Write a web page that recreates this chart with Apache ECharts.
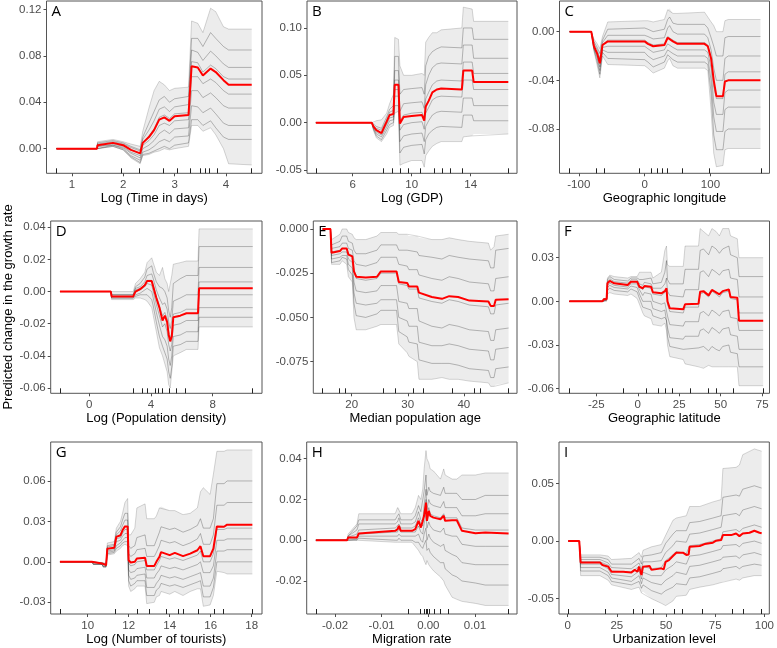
<!DOCTYPE html>
<html><head><meta charset="utf-8">
<script src="https://cdn.jsdelivr.net/npm/echarts@6/dist/echarts.min.js"></script>
<style>html,body{margin:0;padding:0;background:#fff}#c{width:777px;height:648px}</style>
</head><body><div id="c"></div>
<script>
// ---------- Panel A : Log (Time in days) ----------
const A_x   = [0.7,1.49,1.5,1.8,2.0,2.15,2.33,2.38,2.5,2.6,2.7,2.8,2.9,3.0,3.27,3.33,3.45,3.55,3.7,3.8,3.95,4.05,4.5];
const A_red = [0,0,0.003,0.005,0.003,-0.001,-0.004,0.005,0.01,0.016,0.025,0.027,0.024,0.028,0.029,0.071,0.070,0.063,0.069,0.066,0.059,0.055,0.055];
const A_hi  = [0,0,0.006,0.008,0.006,0.004,0.002,0.015,0.035,0.05,0.058,0.055,0.05,0.052,0.053,0.11,0.108,0.1,0.121,0.118,0.105,0.103,0.103];
const A_lo  = [0,0,0.001,0.002,-0.001,-0.008,-0.013,-0.006,-0.005,-0.003,-0.002,0.0,-0.001,0.0,0.002,0.02,0.02,0.015,0.018,0.012,0.0,-0.013,-0.014];
const A_ice = [
 [0,0,0.005,0.007,0.005,0.002,-0.001,0.01,0.022,0.032,0.042,0.045,0.04,0.043,0.045,0.095,0.095,0.088,0.1,0.095,0.088,0.085,0.085],
 [0,0,0.004,0.006,0.004,0.001,-0.002,0.008,0.016,0.024,0.034,0.036,0.032,0.036,0.038,0.085,0.083,0.076,0.084,0.08,0.073,0.07,0.07],
 [0,0,0.003,0.005,0.003,-0.001,-0.004,0.005,0.011,0.017,0.027,0.029,0.026,0.03,0.031,0.075,0.074,0.066,0.072,0.069,0.062,0.06,0.06],
 [0,0,0.002,0.004,0.002,-0.003,-0.006,0.003,0.007,0.012,0.02,0.022,0.02,0.024,0.025,0.062,0.062,0.056,0.06,0.057,0.05,0.047,0.047],
 [0,0,0.002,0.003,0.001,-0.004,-0.008,0.0,0.003,0.007,0.013,0.016,0.013,0.017,0.018,0.05,0.05,0.044,0.048,0.044,0.037,0.035,0.035],
 [0,0,0.001,0.003,0.0,-0.006,-0.01,-0.003,-0.001,0.002,0.006,0.008,0.006,0.01,0.011,0.037,0.036,0.031,0.035,0.03,0.022,0.02,0.02],
 [0,0,0.001,0.002,-0.001,-0.007,-0.012,-0.005,-0.004,-0.002,0.0,0.002,0.0,0.003,0.005,0.025,0.025,0.02,0.024,0.018,0.01,0.008,0.008]
];
const A_rug = [0.7,1.96,2.31,2.77,3.06,3.30,3.50,3.59,3.67,3.82,4.5];
const A_xt = [1,2,3,4];
const A_yt = [0,0.04,0.08,0.12];

// ---------- Panel B : Log (GDP) ----------
const B_x   = [3.5,7.29,7.4,7.6,7.95,8.3,8.5,8.76,8.85,9.1,9.2,9.45,10.0,10.7,10.85,10.95,11.15,11.4,11.7,12.0,13.4,13.5,14.1,14.2,16.55];
const B_red = [0,0,-0.004,-0.008,-0.011,0.001,0.008,0.009,0.040,0.040,-0.001,0.006,0.007,0.008,0.002,0.017,0.023,0.032,0.035,0.036,0.035,0.055,0.055,0.043,0.043];
const B_hi  = [0,0,0.0,0.002,0.003,0.01,0.02,0.03,0.09,0.088,0.06,0.05,0.05,0.052,0.05,0.085,0.09,0.095,0.095,0.098,0.1,0.122,0.12,0.107,0.107];
const B_lo  = [0,0,-0.008,-0.016,-0.02,-0.012,-0.005,-0.003,0.01,0.012,-0.045,-0.043,-0.04,-0.04,-0.047,-0.035,-0.03,-0.025,-0.022,-0.02,-0.02,-0.015,-0.014,-0.012,-0.012];
const B_ice = [
 [0,0,-0.002,-0.004,-0.006,0.006,0.014,0.018,0.07,0.07,0.03,0.035,0.036,0.037,0.03,0.06,0.07,0.075,0.078,0.08,0.079,0.1,0.1,0.088,0.088],
 [0,0,-0.003,-0.006,-0.008,0.003,0.011,0.013,0.055,0.055,0.012,0.02,0.021,0.022,0.015,0.04,0.05,0.058,0.062,0.063,0.062,0.082,0.082,0.068,0.068],
 [0,0,-0.004,-0.008,-0.011,0.0,0.008,0.01,0.045,0.045,0.002,0.008,0.01,0.011,0.004,0.025,0.032,0.04,0.044,0.045,0.044,0.064,0.064,0.052,0.052],
 [0,0,-0.005,-0.01,-0.013,-0.002,0.005,0.006,0.035,0.035,-0.008,-0.002,0.0,0.001,-0.007,0.01,0.016,0.024,0.027,0.028,0.027,0.045,0.045,0.035,0.035],
 [0,0,-0.006,-0.012,-0.015,-0.005,0.002,0.003,0.028,0.028,-0.02,-0.014,-0.012,-0.011,-0.02,-0.004,0.002,0.008,0.011,0.012,0.011,0.026,0.026,0.018,0.018],
 [0,0,-0.007,-0.014,-0.018,-0.008,-0.002,0.0,0.018,0.018,-0.032,-0.026,-0.024,-0.023,-0.033,-0.018,-0.012,-0.008,-0.005,-0.004,-0.005,0.008,0.008,0.002,0.002]
];
const B_rug = [3.5,8.1,8.7,9.25,9.75,10.6,11.5,12.05,12.6,13.4,16.55];
const B_xt = [6,10,14];
const B_yt = [-0.05,0,0.05,0.10];

// ---------- Panel C : Geographic longitude ----------
const C_x   = [-114,-81,-77,-72,-68,-64,-56,0,5,13,30,35,38,43,50,91,96,101,105,109,119,122,127,176];
const C_red = [0,0,-0.012,-0.018,-0.026,-0.011,-0.008,-0.008,-0.01,-0.012,-0.011,-0.005,-0.004,-0.008,-0.010,-0.010,-0.012,-0.022,-0.04,-0.053,-0.053,-0.041,-0.040,-0.040];
const C_hi  = [0,0,-0.006,-0.01,-0.014,-0.004,0.008,0.009,0.009,0.008,0.01,0.018,0.019,0.015,0.015,0.016,0.012,0.008,0.005,0.0,0.0,0.009,0.01,0.01];
const C_lo  = [0,0,-0.016,-0.028,-0.038,-0.02,-0.027,-0.028,-0.03,-0.034,-0.03,-0.024,-0.022,-0.028,-0.03,-0.03,-0.032,-0.065,-0.1,-0.111,-0.11,-0.097,-0.096,-0.096];
const C_ice = [
 [0,0,-0.008,-0.013,-0.018,-0.007,0.002,0.003,0.002,0.0,0.002,0.01,0.012,0.007,0.006,0.006,0.003,-0.005,-0.012,-0.02,-0.02,-0.005,-0.004,-0.004],
 [0,0,-0.01,-0.015,-0.022,-0.009,-0.003,-0.003,-0.004,-0.006,-0.005,0.003,0.005,0.0,-0.002,-0.002,-0.005,-0.015,-0.03,-0.04,-0.04,-0.022,-0.02,-0.02],
 [0,0,-0.012,-0.018,-0.026,-0.011,-0.007,-0.007,-0.009,-0.011,-0.01,-0.004,-0.003,-0.007,-0.009,-0.009,-0.011,-0.022,-0.045,-0.055,-0.055,-0.035,-0.033,-0.033],
 [0,0,-0.013,-0.02,-0.029,-0.013,-0.012,-0.012,-0.014,-0.017,-0.015,-0.01,-0.009,-0.013,-0.015,-0.015,-0.017,-0.03,-0.058,-0.068,-0.068,-0.05,-0.048,-0.048],
 [0,0,-0.014,-0.022,-0.032,-0.015,-0.017,-0.017,-0.02,-0.023,-0.02,-0.015,-0.014,-0.018,-0.02,-0.02,-0.022,-0.04,-0.07,-0.082,-0.082,-0.064,-0.062,-0.062],
 [0,0,-0.015,-0.025,-0.035,-0.017,-0.022,-0.023,-0.025,-0.029,-0.025,-0.019,-0.018,-0.023,-0.025,-0.025,-0.027,-0.05,-0.085,-0.097,-0.097,-0.082,-0.08,-0.08]
];
const C_rug = [-114,-73,-61,-8,10,19,27,34,57,98,177];
const C_xt = [-100,0,100];
const C_yt = [-0.08,-0.04,0];

// ---------- Panel D : Log (Population density) ----------
const D_x   = [-1.9,1.4,1.45,2.85,3.0,3.3,3.6,3.75,4.05,4.15,4.35,4.55,4.75,4.9,5.05,5.15,5.25,5.35,5.45,5.9,6.3,7.05,7.12,10.6];
const D_red = [0,0,-0.003,-0.003,0.0,0.0015,0.004,0.0065,0.0065,0.003,-0.004,-0.01,-0.018,-0.015,-0.019,-0.027,-0.031,-0.028,-0.016,-0.015,-0.0135,-0.0135,0.002,0.002];
const D_hi  = [0,0,0,0,0.005,0.008,0.012,0.018,0.021,0.018,0.012,0.01,0.015,0.008,0.005,0.0,0.005,0.01,0.017,0.018,0.019,0.019,0.039,0.039];
const D_lo  = [0,0,-0.005,-0.005,-0.004,-0.004,-0.005,-0.006,-0.01,-0.015,-0.025,-0.035,-0.04,-0.045,-0.05,-0.058,-0.06,-0.05,-0.04,-0.038,-0.036,-0.036,-0.022,-0.022];
const D_ice = [
 [0,0,-0.002,-0.002,0.003,0.005,0.009,0.014,0.016,0.012,0.006,0.003,0.002,0.0,-0.004,-0.012,-0.016,-0.01,0.005,0.008,0.01,0.01,0.028,0.028],
 [0,0,-0.002,-0.002,0.002,0.003,0.006,0.01,0.011,0.008,0.001,-0.004,-0.008,-0.007,-0.011,-0.019,-0.023,-0.018,-0.006,-0.004,-0.002,-0.002,0.015,0.015],
 [0,0,-0.003,-0.003,0.001,0.002,0.004,0.007,0.007,0.004,-0.003,-0.009,-0.015,-0.013,-0.017,-0.025,-0.029,-0.026,-0.014,-0.013,-0.011,-0.011,0.006,0.006],
 [0,0,-0.003,-0.003,0.0,0.001,0.003,0.005,0.004,0.0,-0.008,-0.015,-0.022,-0.02,-0.025,-0.033,-0.037,-0.033,-0.021,-0.02,-0.018,-0.018,-0.002,-0.002],
 [0,0,-0.004,-0.004,-0.002,-0.001,0.001,0.002,0.0,-0.004,-0.013,-0.021,-0.028,-0.03,-0.034,-0.042,-0.046,-0.04,-0.028,-0.027,-0.025,-0.025,-0.01,-0.01],
 [0,0,-0.004,-0.004,-0.003,-0.002,-0.002,-0.002,-0.005,-0.009,-0.019,-0.028,-0.034,-0.038,-0.042,-0.05,-0.054,-0.047,-0.034,-0.033,-0.031,-0.031,-0.016,-0.016]
];
const D_rug = [-1.9,2.85,3.44,3.78,4.28,4.5,4.74,5.19,5.66,6.25,10.57];
const D_xt = [0,4,8];
const D_yt = [-0.06,-0.04,-0.02,0,0.02,0.04];

// ---------- Panel E : Median population age ----------
const E_x   = [14.8,16.2,16.4,17.9,18.3,19.1,19.4,20.1,20.4,20.8,22.5,24.5,25.2,28.0,28.4,29.9,30.2,31.7,32.0,34.3,36.1,37.4,39.0,41.0,44.4,44.8,45.4,45.7,48.0];
const E_red = [0,0,-0.0135,-0.0125,-0.011,-0.011,-0.0145,-0.0155,-0.024,-0.027,-0.0275,-0.027,-0.024,-0.024,-0.030,-0.0305,-0.0325,-0.0325,-0.036,-0.0385,-0.0395,-0.038,-0.0385,-0.0405,-0.041,-0.0435,-0.0435,-0.040,-0.0397];
const E_hi  = [0,0,-0.006,-0.003,0.0,0.0,-0.002,-0.003,-0.005,-0.006,-0.006,-0.004,-0.002,-0.002,-0.003,-0.003,-0.004,-0.004,-0.005,-0.006,-0.006,-0.005,-0.006,-0.007,-0.008,-0.012,-0.01,-0.004,-0.003];
const E_lo  = [0,0,-0.02,-0.02,-0.018,-0.02,-0.027,-0.03,-0.05,-0.057,-0.057,-0.055,-0.054,-0.054,-0.065,-0.07,-0.072,-0.075,-0.085,-0.085,-0.084,-0.085,-0.085,-0.086,-0.087,-0.089,-0.089,-0.088,-0.087];
const E_ice = [
 [0,0,-0.009,-0.007,-0.004,-0.004,-0.007,-0.008,-0.012,-0.014,-0.014,-0.012,-0.009,-0.009,-0.012,-0.012,-0.013,-0.013,-0.015,-0.016,-0.017,-0.015,-0.016,-0.017,-0.018,-0.022,-0.022,-0.012,-0.011],
 [0,0,-0.011,-0.01,-0.008,-0.008,-0.011,-0.012,-0.018,-0.02,-0.021,-0.019,-0.016,-0.016,-0.02,-0.021,-0.023,-0.023,-0.026,-0.028,-0.029,-0.027,-0.028,-0.03,-0.031,-0.035,-0.035,-0.028,-0.027],
 [0,0,-0.013,-0.012,-0.011,-0.011,-0.014,-0.015,-0.024,-0.028,-0.029,-0.028,-0.025,-0.025,-0.031,-0.032,-0.034,-0.034,-0.039,-0.041,-0.042,-0.04,-0.041,-0.043,-0.044,-0.048,-0.048,-0.043,-0.042],
 [0,0,-0.015,-0.014,-0.013,-0.013,-0.017,-0.019,-0.03,-0.035,-0.036,-0.035,-0.032,-0.032,-0.041,-0.042,-0.045,-0.045,-0.052,-0.055,-0.056,-0.054,-0.055,-0.057,-0.058,-0.063,-0.063,-0.057,-0.056],
 [0,0,-0.017,-0.016,-0.015,-0.015,-0.02,-0.022,-0.036,-0.042,-0.043,-0.042,-0.04,-0.04,-0.05,-0.052,-0.055,-0.055,-0.064,-0.066,-0.066,-0.065,-0.066,-0.068,-0.069,-0.074,-0.074,-0.068,-0.067],
 [0,0,-0.019,-0.018,-0.016,-0.017,-0.023,-0.026,-0.042,-0.049,-0.05,-0.048,-0.046,-0.046,-0.058,-0.061,-0.064,-0.065,-0.074,-0.076,-0.076,-0.076,-0.077,-0.079,-0.08,-0.084,-0.084,-0.079,-0.078]
];
const E_rug = [14.8,17.8,18.8,25.65,27.7,30.9,32.8,38.0,41.9,43.0,48.0];
const E_xt = [20,30,40];
const E_yt = [-0.075,-0.05,-0.025,0];

// ---------- Panel F : Geographic latitude ----------
const F_x   = [-41.3,-21.3,-20.5,-18.8,-18.3,-16.9,-14.2,-6.1,-4.1,-0.4,1,3,4,8,9.1,14.2,16.3,17.3,17.9,19.3,27.4,28.5,36.6,37.6,39.6,42.7,44.7,47.2,49.2,51.2,54.9,55.9,60,61,75.6];
const F_red = [0,0,0.0014,0.0014,0.0124,0.014,0.0124,0.0112,0.0135,0.0135,0.01,0.009,0.0105,0.01,0.0062,0.0055,0.007,0.009,0.0,-0.0048,-0.0055,-0.002,-0.0016,0.0066,0.007,0.0041,0.0078,0.0062,0.0048,0.007,0.0082,0.003,0.0025,-0.0133,-0.0133];
const F_hi  = [0,0,0.002,0.002,0.016,0.018,0.017,0.016,0.017,0.017,0.02,0.02,0.02,0.02,0.016,0.02,0.035,0.038,0.025,0.024,0.024,0.038,0.038,0.05,0.048,0.045,0.05,0.048,0.045,0.05,0.05,0.045,0.043,0.03,0.03];
const F_lo  = [0,0,0,0,0.005,0.006,0.005,0.004,0.005,0.002,-0.002,-0.008,-0.01,-0.012,-0.016,-0.017,-0.015,-0.02,-0.03,-0.038,-0.04,-0.043,-0.045,-0.045,-0.046,-0.044,-0.045,-0.045,-0.045,-0.045,-0.045,-0.045,-0.045,-0.058,-0.058];
const F_ice = [
 [0,0,0.0018,0.0018,0.015,0.017,0.015,0.014,0.016,0.016,0.015,0.015,0.016,0.016,0.012,0.013,0.02,0.028,0.015,0.012,0.012,0.022,0.022,0.035,0.036,0.032,0.038,0.036,0.033,0.036,0.038,0.032,0.03,0.017,0.017],
 [0,0,0.0016,0.0016,0.0135,0.0155,0.0135,0.0125,0.0148,0.0148,0.012,0.011,0.013,0.012,0.009,0.009,0.012,0.016,0.007,0.004,0.003,0.008,0.008,0.02,0.021,0.017,0.022,0.02,0.018,0.021,0.022,0.016,0.015,0.003,0.003],
 [0,0,0.0014,0.0014,0.0124,0.014,0.0124,0.0112,0.0135,0.0135,0.01,0.008,0.01,0.009,0.005,0.004,0.006,0.008,-0.002,-0.007,-0.008,-0.004,-0.004,0.005,0.006,0.003,0.007,0.005,0.003,0.006,0.007,0.002,0.001,-0.008,-0.008],
 [0,0,0.0012,0.0012,0.011,0.0125,0.011,0.0098,0.012,0.012,0.008,0.004,0.006,0.005,0.0,-0.002,-0.001,0.0,-0.01,-0.016,-0.017,-0.014,-0.014,-0.008,-0.007,-0.01,-0.006,-0.008,-0.01,-0.007,-0.006,-0.011,-0.012,-0.02,-0.02],
 [0,0,0.001,0.001,0.0095,0.011,0.0095,0.0085,0.0105,0.0095,0.005,0.0,0.001,0.0,-0.005,-0.007,-0.006,-0.007,-0.018,-0.025,-0.026,-0.024,-0.024,-0.02,-0.019,-0.022,-0.018,-0.02,-0.022,-0.019,-0.018,-0.023,-0.024,-0.033,-0.033],
 [0,0,0.0007,0.0007,0.0075,0.009,0.0075,0.0065,0.0085,0.0065,0.002,-0.004,-0.005,-0.006,-0.01,-0.012,-0.011,-0.013,-0.024,-0.031,-0.033,-0.032,-0.032,-0.032,-0.031,-0.034,-0.031,-0.033,-0.034,-0.031,-0.03,-0.035,-0.036,-0.045,-0.045]
];
const F_rug = [-41.3,-8.5,5.1,12.2,16.7,20.5,31.5,42.3,47.2,57.5,75.6];
const F_xt = [-25,0,25,50,75];
const F_yt = [-0.06,-0.03,0,0.03];

// ---------- Panel G : Log (Number of tourists) ----------
const G_x   = [8.65,10.2,10.28,10.7,10.76,10.9,10.96,11.3,11.4,11.6,11.7,11.82,11.95,12.0,12.1,12.3,12.4,12.8,12.88,13.25,13.35,13.5,13.58,14.0,14.25,14.65,15.0,15.35,15.5,15.64,15.97,16.13,16.3,16.65,16.8,18.03];
const G_red = [0,0,-0.0012,-0.0012,-0.0025,-0.0025,0.0098,0.0105,0.0185,0.0197,0.0234,0.0263,0.0263,0.0012,-0.0005,0.0,0.0025,0.003,-0.003,-0.003,0.0,0.0037,0.0072,0.005,0.0066,0.0042,0.0061,0.0086,0.0116,0.0042,0.0042,0.0098,0.0263,0.026,0.0276,0.0276];
const G_hi  = [0,0,-0.0005,-0.0005,-0.001,-0.001,0.014,0.015,0.025,0.03,0.036,0.044,0.047,0.02,0.02,0.025,0.04,0.043,0.032,0.032,0.034,0.04,0.041,0.038,0.038,0.035,0.036,0.04,0.052,0.055,0.05,0.065,0.082,0.082,0.083,0.083];
const G_lo  = [0,0,-0.002,-0.002,-0.004,-0.004,0.005,0.006,0.008,0.01,0.012,0.013,0.012,-0.018,-0.022,-0.02,-0.018,-0.018,-0.031,-0.03,-0.026,-0.025,-0.022,-0.024,-0.022,-0.025,-0.022,-0.02,-0.02,-0.033,-0.032,-0.025,-0.007,-0.008,-0.009,-0.009];
const G_ice = [
 [0,0,-0.0008,-0.0008,-0.0015,-0.0015,0.012,0.013,0.022,0.026,0.031,0.036,0.036,0.012,0.01,0.012,0.018,0.02,0.012,0.012,0.016,0.022,0.026,0.024,0.025,0.022,0.024,0.027,0.032,0.025,0.025,0.032,0.058,0.058,0.06,0.06],
 [0,0,-0.001,-0.001,-0.002,-0.002,0.011,0.012,0.02,0.023,0.027,0.031,0.031,0.006,0.004,0.006,0.009,0.01,0.004,0.004,0.007,0.012,0.016,0.014,0.015,0.012,0.014,0.017,0.021,0.013,0.013,0.02,0.042,0.042,0.044,0.044],
 [0,0,-0.0012,-0.0012,-0.0025,-0.0025,0.009,0.01,0.017,0.018,0.021,0.024,0.024,-0.001,-0.003,-0.002,0.0,0.001,-0.006,-0.006,-0.003,0.001,0.004,0.002,0.003,0.001,0.003,0.005,0.008,0.0,0.0,0.006,0.024,0.024,0.025,0.025],
 [0,0,-0.0015,-0.0015,-0.003,-0.003,0.008,0.009,0.015,0.016,0.019,0.021,0.021,-0.006,-0.008,-0.007,-0.005,-0.004,-0.012,-0.012,-0.009,-0.006,-0.003,-0.005,-0.004,-0.006,-0.004,-0.002,0.0,-0.008,-0.008,-0.003,0.016,0.016,0.017,0.017],
 [0,0,-0.0017,-0.0017,-0.0035,-0.0035,0.007,0.008,0.012,0.014,0.016,0.018,0.018,-0.01,-0.013,-0.012,-0.01,-0.009,-0.019,-0.019,-0.016,-0.013,-0.01,-0.012,-0.011,-0.013,-0.011,-0.009,-0.008,-0.018,-0.018,-0.012,0.008,0.008,0.009,0.009],
 [0,0,-0.0019,-0.0019,-0.0038,-0.0038,0.006,0.007,0.01,0.012,0.014,0.015,0.015,-0.014,-0.018,-0.016,-0.014,-0.014,-0.025,-0.025,-0.021,-0.019,-0.016,-0.018,-0.017,-0.019,-0.017,-0.015,-0.014,-0.026,-0.026,-0.019,0.0,0.0,0.0,0.0]
];
const G_rug = [8.65,11.35,12.4,13.0,13.85,14.4,14.65,15.4,16.15,16.6,18.03];
const G_xt = [10,12,14,16,18];
const G_yt = [-0.03,0,0.03,0.06];

// ---------- Panel H : Migration rate ----------
const H_x   = [-0.0241,-0.0174,-0.0172,-0.0153,-0.0149,-0.0071,-0.0066,-0.0063,-0.0059,-0.0035,-0.0028,-0.0021,-0.0016,-0.0012,-0.0009,-0.0005,-0.0003,0.0001,0.0004,0.0011,0.0026,0.0033,0.0036,0.0051,0.0061,0.0072,0.0101,0.0122,0.0172];
const H_red = [0,0,0.0013,0.0013,0.0033,0.0046,0.0054,0.007,0.0046,0.0046,0.0054,0.0095,0.0062,0.0054,0.012,0.0185,0.0095,0.0144,0.012,0.0111,0.0103,0.012,0.0095,0.0098,0.0098,0.0046,0.0034,0.0038,0.0033];
const H_hi  = [0,0,0.003,0.008,0.013,0.013,0.016,0.016,0.013,0.013,0.016,0.022,0.02,0.025,0.035,0.044,0.04,0.038,0.035,0.034,0.03,0.035,0.032,0.03,0.03,0.032,0.032,0.033,0.033];
const H_lo  = [0,0,0,0,0,-0.001,-0.001,-0.001,-0.001,-0.001,-0.003,-0.005,-0.007,-0.008,-0.01,-0.012,-0.01,-0.012,-0.013,-0.015,-0.018,-0.02,-0.022,-0.028,-0.029,-0.03,-0.031,-0.032,-0.032];
const H_ice = [
 [0,0,0.002,0.007,0.01,0.01,0.012,0.013,0.01,0.01,0.012,0.017,0.014,0.014,0.024,0.032,0.022,0.026,0.024,0.023,0.022,0.026,0.023,0.023,0.023,0.02,0.02,0.022,0.022],
 [0,0,0.002,0.005,0.008,0.008,0.009,0.011,0.008,0.008,0.009,0.014,0.01,0.009,0.017,0.025,0.015,0.02,0.018,0.017,0.016,0.019,0.016,0.016,0.016,0.012,0.012,0.013,0.013],
 [0,0,0.0015,0.003,0.005,0.006,0.007,0.008,0.006,0.006,0.007,0.011,0.008,0.007,0.013,0.02,0.011,0.016,0.013,0.012,0.011,0.013,0.011,0.011,0.011,0.006,0.005,0.005,0.005],
 [0,0,0.001,0.001,0.003,0.004,0.004,0.006,0.004,0.004,0.004,0.007,0.004,0.003,0.008,0.013,0.006,0.009,0.007,0.005,0.004,0.006,0.003,0.002,0.002,-0.002,-0.003,-0.003,-0.003],
 [0,0,0.0005,0.0005,0.002,0.002,0.002,0.003,0.002,0.002,0.002,0.003,0.0,-0.001,0.003,0.006,0.0,0.003,0.001,-0.001,-0.003,-0.002,-0.005,-0.007,-0.008,-0.011,-0.012,-0.012,-0.012],
 [0,0,0.0,0.0,0.001,0.0,0.0,0.001,0.0,0.0,-0.001,-0.001,-0.003,-0.004,-0.002,0.0,-0.005,-0.004,-0.006,-0.008,-0.011,-0.011,-0.014,-0.017,-0.018,-0.02,-0.021,-0.022,-0.022]
];
const H_rug = [-0.0241,-0.0042,-0.0017,-0.0008,-0.0005,-0.0002,0.0001,0.0013,0.0026,0.0042,0.0172];
const H_xt = [-0.02,-0.01,0,0.01];
const H_yt = [-0.02,0,0.02,0.04];

// ---------- Panel I : Urbanization level ----------
const I_x   = [0.3,5.9,6.6,16.4,17.7,20.6,22.3,28.2,32.4,34.1,35.5,36.3,37.5,38.3,41.7,42.6,43.4,47.6,48.8,49.8,51.5,53.5,55.2,58.6,60.3,61.5,62,67.1,69.6,73.8,75.5,78,78.9,83.1,85.6,87.3,89,92.4,94.9,97.5,98.6];
const I_red = [0,0,-0.0185,-0.0185,-0.0208,-0.0222,-0.0266,-0.0266,-0.0272,-0.025,-0.0266,-0.0222,-0.0295,-0.0222,-0.0217,-0.025,-0.0237,-0.0237,-0.0246,-0.018,-0.0165,-0.013,-0.0101,-0.0101,-0.012,-0.0116,-0.0049,-0.0043,-0.0026,-0.0014,0.0003,0.0009,0.0052,0.0052,0.0066,0.0043,0.0066,0.0072,0.009,0.0072,0.0068];
const I_gx  = [0.3,5.9,6.6,16.4,20.6,22.3,32.4,36.3,37.5,38.3,42.6,47.6,49.8,53.5,55.2,60.3,62,67.1,73.8,78,78.9,85.6,87.3,89,94.9,98.6];
const I_hi  = [0,0,-0.012,-0.012,-0.013,-0.016,-0.015,-0.01,-0.014,-0.008,-0.005,-0.003,0.005,0.018,0.02,0.022,0.03,0.03,0.034,0.036,0.063,0.064,0.066,0.075,0.08,0.078];
const I_lo  = [0,0,-0.03,-0.03,-0.034,-0.038,-0.042,-0.04,-0.045,-0.044,-0.05,-0.054,-0.056,-0.052,-0.048,-0.047,-0.042,-0.04,-0.038,-0.036,-0.035,-0.033,-0.034,-0.032,-0.03,-0.03];
const I_ice = [
 [0,0,-0.014,-0.014,-0.016,-0.02,-0.02,-0.015,-0.02,-0.013,-0.012,-0.01,-0.002,0.006,0.009,0.009,0.016,0.017,0.02,0.022,0.038,0.04,0.039,0.045,0.048,0.046],
 [0,0,-0.016,-0.016,-0.019,-0.023,-0.024,-0.019,-0.025,-0.018,-0.018,-0.017,-0.01,-0.004,0.0,-0.001,0.006,0.007,0.01,0.012,0.022,0.024,0.022,0.027,0.03,0.028],
 [0,0,-0.018,-0.018,-0.021,-0.026,-0.027,-0.022,-0.029,-0.022,-0.024,-0.023,-0.017,-0.012,-0.009,-0.011,-0.004,-0.003,0.0,0.002,0.008,0.01,0.008,0.011,0.014,0.012],
 [0,0,-0.02,-0.02,-0.024,-0.029,-0.031,-0.026,-0.033,-0.027,-0.03,-0.03,-0.025,-0.021,-0.018,-0.02,-0.013,-0.012,-0.009,-0.007,-0.004,-0.003,-0.005,-0.002,0.0,-0.002],
 [0,0,-0.023,-0.023,-0.027,-0.032,-0.035,-0.03,-0.037,-0.032,-0.036,-0.038,-0.034,-0.03,-0.027,-0.029,-0.022,-0.021,-0.018,-0.016,-0.014,-0.013,-0.015,-0.012,-0.01,-0.012],
 [0,0,-0.026,-0.026,-0.03,-0.035,-0.038,-0.035,-0.041,-0.038,-0.043,-0.046,-0.043,-0.04,-0.037,-0.038,-0.032,-0.031,-0.028,-0.026,-0.024,-0.022,-0.024,-0.022,-0.02,-0.021]
];
const I_rug = [0.3,18.9,33.3,38,43.4,54,58.3,68.4,83.9,89.5,98.6];
const I_xt = [0,25,50,75,100];
const I_yt = [-0.05,0,0.05];

const xNames = ['Log (Time in days)','Log (GDP)','Geographic longitude','Log (Population density)','Median population age','Geographic latitude','Log (Number of tourists)','Migration rate','Urbanization level'];
const letters = ['A','B','C','D','E','F','G','H','I'];

// ---------- layout (px boxes: left, top, right, bottom) and axis extents ----------
const panels = [
 {x:A_x,red:A_red,gx:A_x,hi:A_hi,lo:A_lo,ice:A_ice,rug:A_rug,xt:A_xt,yt:A_yt,xd:0,yd:2,xr:[0.507,4.70],yr:[-0.0212,0.1272],box:[46.5,1,262,173.3]},
 {x:B_x,red:B_red,gx:B_x,hi:B_hi,lo:B_lo,ice:B_ice,rug:B_rug,xt:B_xt,yt:B_yt,xd:0,yd:2,xr:[2.9,17.14],yr:[-0.0535,0.1285],box:[307,1,517,173.3]},
 {x:C_x,red:C_red,gx:C_x,hi:C_hi,lo:C_lo,ice:C_ice,rug:C_rug,xt:C_xt,yt:C_yt,xd:0,yd:2,xr:[-129.3,189.7],yr:[-0.1164,0.0252],box:[559.5,1,769.5,173.3]},
 {x:D_x,red:D_red,gx:D_x,hi:D_hi,lo:D_lo,ice:D_ice,rug:D_rug,xt:D_xt,yt:D_yt,xd:0,yd:2,xr:[-2.5,11.2],yr:[-0.0633,0.0439],box:[50.7,221,262,393.3]},
 {x:E_x,red:E_red,gx:E_x,hi:E_hi,lo:E_lo,ice:E_ice,rug:E_rug,xt:E_xt,yt:E_yt,xd:0,yd:3,xr:[13.14,49.5],yr:[-0.0929,0.0045],box:[313.3,221,517,393.3]},
 {x:F_x,red:F_red,gx:F_x,hi:F_hi,lo:F_lo,ice:F_ice,rug:F_rug,xt:F_xt,yt:F_yt,xd:0,yd:2,xr:[-47.5,79.4],yr:[-0.0632,0.0552],box:[559,221,769.5,393.3]},
 {x:G_x,red:G_red,gx:G_x,hi:G_hi,lo:G_lo,ice:G_ice,rug:G_rug,xt:G_xt,yt:G_yt,xd:0,yd:2,xr:[8.2,18.5],yr:[-0.0387,0.0889],box:[50.7,442,262,614]},
 {x:H_x,red:H_red,gx:H_x,hi:H_hi,lo:H_lo,ice:H_ice,rug:H_rug,xt:H_xt,yt:H_yt,xd:2,yd:2,xr:[-0.02606,0.019],yr:[-0.0362,0.0482],box:[306.7,442,517,614]},
 {x:I_x,red:I_red,gx:I_gx,hi:I_hi,lo:I_lo,ice:I_ice,rug:I_rug,xt:I_xt,yt:I_yt,xd:0,yd:2,xr:[-4.4,102.5],yr:[-0.0633,0.086],box:[559,442,770,614]}
];

const FONT = 'Liberation Sans, Arial, sans-serif';
const AXC = '#4d4d4d';
const grids = [], xAxes = [], yAxes = [], series = [], titles = [];
const fmt = (d) => (v) => { const s = Number(v).toFixed(d); return /^-0(\.0+)?$/.test(s) ? s.slice(1) : s; };

panels.forEach((p, i) => {
  const [l, t, r, b] = p.box;
  grids.push({left:l, top:t, width:r-l, height:b-t, show:true, borderColor:'#555', borderWidth:1, backgroundColor:'transparent', containLabel:false});
  xAxes.push({type:'value', gridIndex:i, position:'bottom', min:p.xr[0], max:p.xr[1],
    name:xNames[i], nameLocation:'middle', nameGap:19,
    nameTextStyle:{fontSize:13, color:'#000', fontFamily:FONT},
    axisLine:{show:false, onZero:false},
    axisTick:{show:true, length:3, customValues:p.xt, lineStyle:{color:AXC}},
    axisLabel:{show:true, customValues:p.xt, formatter:fmt(p.xd), fontSize:11.5, color:AXC, fontFamily:FONT, margin:6},
    splitLine:{show:false}});
  // rug axis: deciles of the feature, drawn as inward ticks
  xAxes.push({type:'value', gridIndex:i, position:'bottom', offset:0, min:p.xr[0], max:p.xr[1],
    axisLine:{show:false, onZero:false},
    axisTick:{show:true, inside:true, length:5, customValues:p.rug, lineStyle:{color:'#222', width:1}},
    axisLabel:{show:false}, splitLine:{show:false}});
  yAxes.push({type:'value', gridIndex:i, min:p.yr[0], max:p.yr[1],
    axisLine:{show:false, onZero:false},
    axisTick:{show:true, length:3, customValues:p.yt, lineStyle:{color:AXC}},
    axisLabel:{show:true, customValues:p.yt, formatter:fmt(p.yd), fontSize:11.5, color:AXC, fontFamily:FONT, margin:5},
    splitLine:{show:false}});
  const xi = 2*i, yi = i;
  const base = {type:'line', xAxisIndex:xi, yAxisIndex:yi, symbol:'none', showSymbol:false, silent:true, animation:false};
  // spread band of the individual curves (single polygon through the axes' scales)
  const gx = p.gx, hi = p.hi, lo = p.lo;
  series.push({type:'custom', xAxisIndex:xi, yAxisIndex:yi, silent:true, animation:false, z:1, clip:true,
    data: gx.map((x,j)=>[x, lo[j], hi[j]]),
    encode:{x:0, y:[1,2]},
    renderItem:(params, api) => {
      if (params.dataIndex !== 0) return null;
      const pts = [];
      for (let j = 0; j < gx.length; j++) pts.push(api.coord([gx[j], hi[j]]));
      for (let j = gx.length - 1; j >= 0; j--) pts.push(api.coord([gx[j], lo[j]]));
      return {type:'polygon', shape:{points:pts}, style:{fill:'rgba(0,0,0,0.075)'}};
    }});
  [hi, lo].forEach(arr => series.push(Object.assign({}, base, {data:gx.map((x,j)=>[x,arr[j]]), lineStyle:{color:'rgba(0,0,0,0.2)', width:0.8}, z:2})));
  p.ice.forEach(arr => series.push(Object.assign({}, base, {data:gx.map((x,j)=>[x,arr[j]]), lineStyle:{color:'rgba(0,0,0,0.32)', width:0.8}, z:2})));
  series.push(Object.assign({}, base, {data:p.x.map((x,j)=>[x,p.red[j]]), lineStyle:{color:'#ff0000', width:2}, z:5}));
  titles.push({text:letters[i], left:l+5, top:t+3, padding:0, textStyle:{fontSize:15, fontWeight:'normal', color:'#000', fontFamily:'Open Sans, Noto Sans, sans-serif'}});
});

const chart = echarts.init(document.getElementById('c'), null, {renderer:'canvas', width:777, height:648});
chart.setOption({
  animation:false, backgroundColor:'#fff',
  title:titles, grid:grids, xAxis:xAxes, yAxis:yAxes, series:series,
  graphic:[{type:'text', x:8, y:307, rotation:Math.PI/2,
    style:{text:'Predicted change in the growth rate', fill:'#000', font:'13px Liberation Sans, Arial, sans-serif', textAlign:'center', textVerticalAlign:'middle'}}]
});
</script></body></html>
